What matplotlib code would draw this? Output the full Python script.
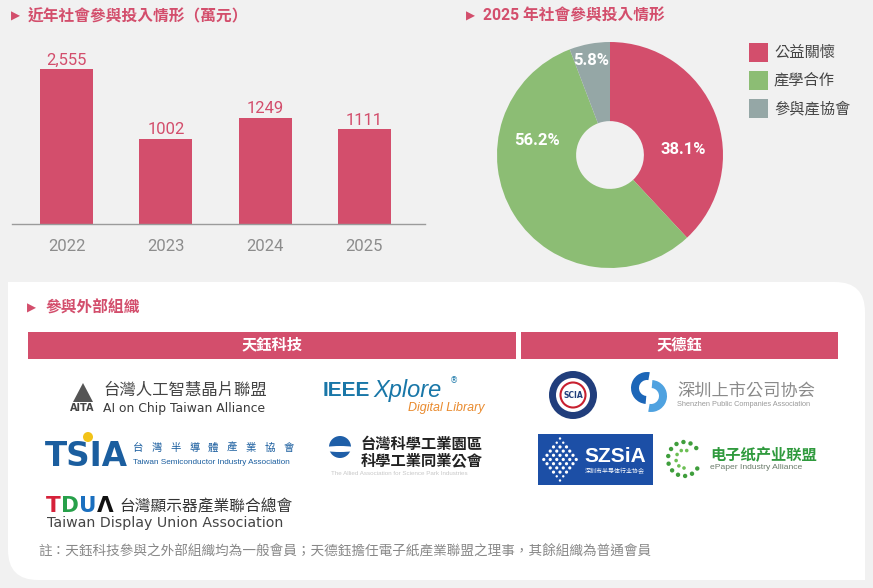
import matplotlib.pyplot as plt
import matplotlib as mpl
import numpy as np
from matplotlib.patches import Rectangle, FancyBboxPatch, Circle, Wedge, Polygon, Ellipse

mpl.rcParams['font.family'] = ['Roboto', 'Noto Sans CJK TC', 'DejaVu Sans']

# --- data ---
years = ['2022', '2023', '2024', '2025']
amounts = [2555, 1002, 1249, 1111]
amount_labels = ['2,555', '1002', '1249', '1111']
share_names = ['公益關懷', '產學合作', '參與產協會']
shares = [38.1, 56.2, 5.8]
groups = ['天鈺科技', '天德鈺']
note = '註：天鈺科技參與之外部組織均為一般會員；天德鈺擔任電子紙產業聯盟之理事，其餘組織為普通會員'

PINK = '#d34e6c'
GREEN = '#8cbd74'
GREY = '#95a7a6'
BG = '#f1f1f1'
CJK = ['Noto Sans CJK TC', 'DejaVu Sans']
W, H = 873, 588


def frac(x0, y0, x1, y1):
    # pixel box (top-left origin) -> figure fraction rect
    return [x0 / W, 1 - y1 / H, (x1 - x0) / W, (y1 - y0) / H]


def panel(ax):
    box = FancyBboxPatch((8, 282), 857, 298, boxstyle='round,pad=0,rounding_size=30',
                         fc='white', ec='none')
    ax.add_patch(box)
    ax.add_patch(Rectangle((8, 282), 40, 40, fc='white', ec='none'))
    ax.add_patch(Rectangle((825, 540), 40, 40, fc='white', ec='none'))


def titles(ax):
    for tx, x, y, s in [(11, 28, 16.5, '近年社會參與投入情形（萬元）'),
                        (466, 483, 16.5, '2025 年社會參與投入情形'),
                        (27, 46, 308, '參與外部組織')]:
        ax.text(tx, y, '▶', color=PINK, fontsize=8.5, va='center', ha='left', family='DejaVu Sans')
        ax.text(x, y, s, color=PINK, fontsize=11.3, fontweight='bold', va='center', ha='left')


def bars(fig):
    ax = fig.add_axes(frac(12, 40, 425, 224))
    ax.patch.set_alpha(0)
    x = np.arange(len(years))
    # the reference squeezes the tallest bar, so cap its drawn height
    shown = np.minimum(amounts, 1820)
    b = ax.bar(x, shown, width=0.534, color=PINK)
    ax.bar_label(b, labels=amount_labels, padding=1, color=PINK, fontsize=12)
    ax.set_xlim(-0.549, 3.61)
    ax.set_ylim(0, 2162)
    for s in ['top', 'right', 'left']:
        ax.spines[s].set_visible(False)
    ax.spines['bottom'].set_color('#9b9b9b')
    ax.spines['bottom'].set_linewidth(1)
    ax.set_xticks(x, years)
    ax.set_yticks([])
    ax.tick_params(axis='x', length=0, pad=10.5, labelsize=12, labelcolor='#8c8c8c')


def donut(fig, ax_bg):
    ax = fig.add_axes(frac(488, 33, 732, 277))
    colors = [PINK, GREEN, GREY]
    ax.pie(shares, colors=colors, startangle=90, counterclock=False, radius=1,
           wedgeprops=dict(width=0.7, linewidth=0))
    lim = 122 / 113
    ax.set_xlim(-lim, lim)
    ax.set_ylim(-lim, lim)
    ax.set_aspect('equal')
    label_xy = [(0.646, 0.053), (-0.646, 0.124), (-0.168, 0.832)]
    for (lx, ly), s in zip(label_xy, shares):
        ax.text(lx, ly, f'{s:.1f}%', ha='center', va='center', color='white',
                fontsize=12, fontweight='bold')
    for i, (name, c) in enumerate(zip(share_names, colors)):
        y = 43 + i * 28
        ax_bg.add_patch(Rectangle((749, y), 19, 19, fc=c, ec='none'))
        ax_bg.text(774, y + 9.5, name, color='#444444', fontsize=11, va='center', ha='left')


def headers(ax):
    spans = [(28, 516), (521, 838)]
    for (x0, x1), g in zip(spans, groups):
        ax.add_patch(Rectangle((x0, 332), x1 - x0, 27, fc=PINK, ec='none'))
        ax.text((x0 + x1) / 2, 345.5, g, color='white', fontsize=11, fontweight='bold',
                ha='center', va='center')


def logos(ax):
    # AITA
    ax.add_patch(Polygon([(83, 383), (73, 402), (93, 402)], fc='#555555', ec='none'))
    ax.text(82.5, 408, 'AITA', fontsize=7, fontweight='bold', color='#444444',
            ha='center', va='center', family='DejaVu Sans')
    ax.text(103, 390, '台灣人工智慧晶片聯盟', fontsize=11.8, color='#444444', va='center', family=CJK)
    ax.text(103, 408.5, 'AI on Chip Taiwan Alliance', fontsize=8.9, color='#3a3a3a',
            va='center', family='DejaVu Sans')
    # IEEE Xplore
    ax.text(323, 390, 'IEEE', fontsize=15, fontweight='bold', color='#1977a8',
            va='center', family='Liberation Sans')
    ax.text(373, 390, 'Xplore', fontsize=17, style='italic', color='#1977a8',
            va='center', family='Liberation Sans')
    ax.text(450, 381, '®', fontsize=6, color='#1977a8', va='center', family='DejaVu Sans')
    ax.text(485, 408, 'Digital Library', fontsize=9, style='italic', color='#e98a2d',
            va='center', ha='right', family='Liberation Sans')
    # TSIA
    ax.add_patch(Circle((88, 437), 5, fc='#f2c318', ec='none'))
    ax.text(45, 456, 'TSIA', fontsize=23.5, fontweight='bold', color='#1b5e9f',
            va='center', family='DejaVu Sans')
    for i, ch in enumerate('台灣半導體產業協會'):
        ax.text(138 + i * 18.8, 448, ch, fontsize=7.5, color='#1b5e9f',
                ha='center', va='center', family=CJK)
    ax.text(133, 463, 'Taiwan Semiconductor Industry Association', fontsize=5.85,
            color='#1b5e9f', va='center', family='Liberation Sans')
    # science park association
    ax.add_patch(Circle((340, 447), 11, fc='#1f5fa8', ec='none'))
    ax.add_patch(Ellipse((340, 449), 36, 6, fc='white', ec='none'))
    ax.text(361, 444, '台灣科學工業園區', fontsize=11, fontweight='bold', color='#222222',
            va='center', family=CJK)
    ax.text(361, 460, '科學工業同業公會', fontsize=11, fontweight='bold', color='#222222',
            va='center', family=CJK)
    ax.text(331, 473.5, 'The Allied Association for Science Park Industries', fontsize=4.5,
            color='#c8c8c8', va='center', family='Liberation Sans')
    # TDUA
    for ch, c, xx in zip('TDUΛ', ['#d6213a', '#27a04a', '#1a6fbf', '#111111'],
                         [46, 61, 79, 97]):
        ax.text(xx, 506.5, ch, fontsize=15.5, fontweight='bold', color=c, va='center',
                family='DejaVu Sans')
    ax.text(119, 507, '台灣顯示器產業聯合總會', fontsize=11.3, color='#333333',
            va='center', family=CJK)
    ax.text(47, 522.5, 'Taiwan Display Union Association', fontsize=10.2, color='#444444',
            va='center', family='DejaVu Sans')
    # SCIA
    ax.add_patch(Circle((573, 395), 24, fc='#213e7c', ec='none'))
    ax.add_patch(Circle((573, 395), 17, fc='white', ec='none'))
    ax.add_patch(Circle((573, 395), 12.5, fc='white', ec='#c8202f', lw=1.5))
    ax.text(573, 395.5, 'SCIA', fontsize=5.5, fontweight='bold', color='#213e7c',
            ha='center', va='center', family='DejaVu Sans')
    # Shenzhen public companies
    ax.add_patch(Wedge((647, 388), 16, 95, 280, width=8, fc='#1c66b8', ec='none'))
    ax.add_patch(Wedge((651, 396), 16, -85, 100, width=8, fc='#4fa2e0', ec='none'))
    ax.text(677, 391, '深圳上市公司协会', fontsize=12.4, color='#8a8a8a', va='center', family=CJK)
    ax.text(677, 404, 'Shenzhen Public Companies Association', fontsize=5.3,
            color='#9a9a9a', va='center', family='Liberation Sans')
    # SZSIA
    ax.add_patch(Rectangle((538, 434), 115, 51, fc='#1c4fa6', ec='none'))
    for r in range(-5, 6):
        n = 6 - abs(r)
        for k in range(n):
            cx = 560 + (k - (n - 1) / 2) * 6.5
            cy = 459.5 + r * 4.2
            ax.add_patch(Circle((cx, cy), 1.6 if abs(r) < 4 else 1.2, fc='white', ec='none'))
    ax.text(615, 456, 'SZSiA', fontsize=15, fontweight='bold', color='white',
            ha='center', va='center', family='Liberation Sans')
    ax.text(615, 471, '深圳市半导体行业协会', fontsize=4.3, color='white',
            ha='center', va='center', family=CJK)
    # ePaper alliance
    for ang in np.arange(40, 330, 26):
        t = np.deg2rad(ang)
        ax.add_patch(Circle((684 + 16 * np.cos(t), 459 - 17 * np.sin(t)), 2.2,
                            fc='#3f9e3c', ec='none'))
    for ang in np.arange(70, 300, 40):
        t = np.deg2rad(ang)
        ax.add_patch(Circle((684 + 8 * np.cos(t), 459 - 9 * np.sin(t)), 1.8,
                            fc='#6cbf54', ec='none'))
    ax.text(710, 455, '电子纸产业联盟', fontsize=11, fontweight='bold', color='#2f9a3d',
            va='center', family=CJK)
    ax.text(710, 467.5, 'ePaper Industry Alliance', fontsize=6.1, color='#6b7b6b',
            va='center', family='Liberation Sans')


def main():
    fig = plt.figure(figsize=(W / 100, H / 100), dpi=100)
    fig.patch.set_facecolor(BG)
    ax_bg = fig.add_axes([0, 0, 1, 1])
    ax_bg.set_xlim(0, W)
    ax_bg.set_ylim(H, 0)
    ax_bg.axis('off')

    panel(ax_bg)
    titles(ax_bg)
    bars(fig)
    donut(fig, ax_bg)
    headers(ax_bg)
    logos(ax_bg)
    ax_bg.text(38, 552, note, color='#888888', fontsize=9.8, va='center', family=CJK)

    fig.savefig('out.png', dpi=100, facecolor=BG)


main()
